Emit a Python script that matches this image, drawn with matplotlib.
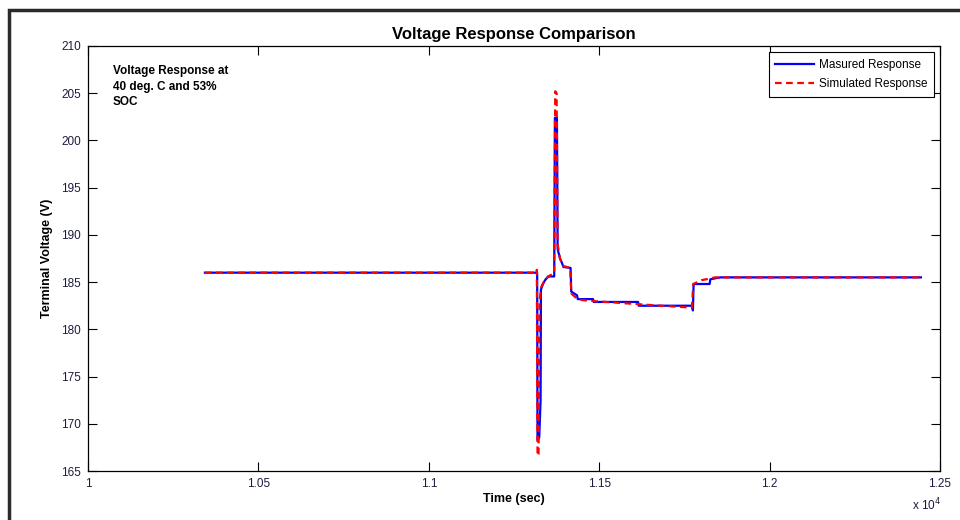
import matplotlib
matplotlib.use("Agg")
from matplotlib import pyplot as plt
from matplotlib.patches import Rectangle
from matplotlib.ticker import FuncFormatter

plt.rcParams['font.family'] = ['Liberation Sans', 'DejaVu Sans']

# measured terminal voltage (sec, V)
meas_t = [10343, 11318, 11319, 11324, 11328, 11329, 11335, 11341, 11350, 11368,
          11370, 11376, 11378, 11385, 11391, 11395, 11416, 11418, 11435, 11437,
          11482, 11484, 11614, 11616, 11772, 11775, 11777, 11824, 11826, 11855,
          12444]
meas_v = [186.0, 186.0, 168.3, 168.5, 172.5, 184.2, 184.8, 185.2, 185.6, 185.6,
          202.4, 202.4, 188.5, 187.5, 187.0, 186.6, 186.5, 184.0, 183.6, 183.2,
          183.2, 182.9, 182.9, 182.5, 182.5, 182.0, 184.8, 184.8, 185.3, 185.5,
          185.5]

# simulated terminal voltage (sec, V)
sim_t = [10343, 11316, 11317, 11319, 11322, 11325, 11330, 11340, 11355, 11368,
         11371, 11375, 11378, 11385, 11395, 11415, 11418, 11430, 11450, 11480,
         11560, 11680, 11772, 11776, 11800, 11840, 12444]
sim_v = [186.0, 186.0, 186.3, 166.6, 166.8, 183.0, 184.5, 185.2, 185.7, 185.9,
         205.2, 205.0, 189.0, 187.5, 186.7, 186.5, 183.8, 183.4, 183.1, 183.0,
         182.8, 182.5, 182.3, 184.8, 185.2, 185.5, 185.5]

x_ticks = [10000, 10500, 11000, 11500, 12000, 12500]
y_ticks = [165, 170, 175, 180, 185, 190, 195, 200, 205, 210]

fig = plt.figure(figsize=(9.6, 5.2), dpi=100)
ax = fig.add_axes([88 / 960, 1 - 471 / 520, 852 / 960, 425 / 520])

ax.plot(meas_t, meas_v, color='#0000ff', lw=1.6, label='Masured Response')
ax.plot(sim_t, sim_v, color='#ff0000', lw=1.6, ls=(0, (3, 2)),
        label='Simulated Response')

ax.set_xlim(10000, 12500)
ax.set_ylim(165, 210)
ax.set_xticks(x_ticks)
ax.set_yticks(y_ticks)
ax.xaxis.set_major_formatter(FuncFormatter(lambda v, p: f'{v / 1e4:g}'))
ax.tick_params(direction='in', length=6.5, width=0.8, top=True, right=True,
               labelsize=8.5, labelcolor='#1c1c40', pad=5)
for s in ax.spines.values():
    s.set_linewidth(0.9)

ax.set_title('Voltage Response Comparison', fontsize=12, fontweight='bold',
             pad=5)
ax.set_xlabel('Time (sec)', fontsize=9, fontweight='bold', labelpad=2)
ax.set_ylabel('Terminal Voltage (V)', fontsize=9, fontweight='bold',
              labelpad=6)

ax.text(0.029, 0.955, 'Voltage Response at\n40 deg. C and 53%\nSOC',
        transform=ax.transAxes, fontsize=8.5, fontweight='bold',
        va='top', ha='left', linespacing=1.4)

leg = ax.legend(loc='upper right', fontsize=8.5, fancybox=False,
                framealpha=1, edgecolor='black', handlelength=3.3,
                handletextpad=0.35, borderaxespad=0.55, borderpad=0.55,
                labelspacing=0.6)
leg.get_frame().set_linewidth(0.8)

fig.text(912 / 960, 1 - 505 / 520, 'x 10$^4$', fontsize=8.5,
         color='#1c1c40', ha='left', va='center')

# outer frame around the figure
fig.patches.append(Rectangle((9 / 960, -0.1), 1.2, 1.1 - 10 / 520,
                             transform=fig.transFigure, fill=False,
                             lw=2.5, edgecolor='#2a2a2a'))

fig.savefig('out.png', dpi=100)
